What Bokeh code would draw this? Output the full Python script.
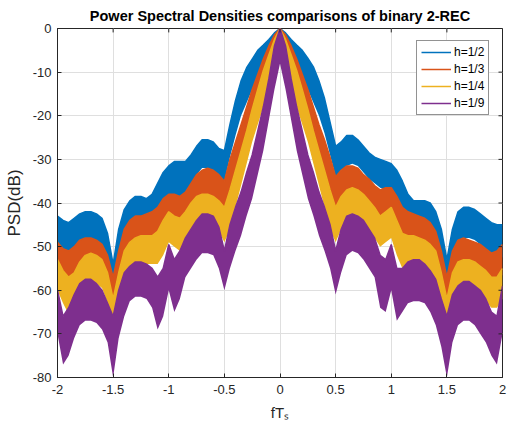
from bokeh.plotting import figure
from bokeh.models import ColumnDataSource, Range1d, FixedTicker, Legend, LegendItem
from bokeh.embed import file_html
from bokeh.resources import INLINE

# frequency grid fT_s (x axis)
FT = [round(-2 + 0.05 * i, 2) for i in range(81)]

# PSD envelopes (dB): upper / lower edge of each noisy trace
BLUE_UPPER = [-43, -44, -44.5, -43.5, -42.5, -42, -42, -42.5, -43.5, -47, -54, -46, -41.5, -39.5, -38.5,
              -38.5, -39, -38, -35.5, -33, -31.5, -30.5, -30.5, -30.5, -29, -27, -25.5, -25.5, -26, -27.5,
              -28, -22, -16.5, -12, -9, -7, -5, -3.8, -2.5, -1,
              0, -1, -2.5, -3.8, -5, -6.8, -8.8, -12, -16, -21.5, -27, -26, -24.5, -24.5, -25.5, -27,
              -28.5, -29.5, -30, -30.5, -31, -32.5, -35, -38, -39.5, -39.5, -39.5, -40, -42, -46, -53,
              -46, -42, -41, -41, -41.5, -42.5, -43.5, -44.5, -45, -45]
BLUE_LOWER = [-51, -52, -52.5, -51.5, -50, -49.5, -49.5, -50, -51, -54, -62, -53, -48, -46, -45, -45,
              -45.5, -44.5, -42, -39.5, -38.5, -38.5, -38.5, -38, -36, -33.5, -32, -32, -32.5, -34, -35,
              -29.5, -24.5, -20, -17, -14, -12, -10, -8, -6,
              -5, -6, -8, -10, -12, -14, -17, -20, -24, -29, -34, -32.5, -31.5, -31, -31.5, -33, -34.5,
              -35.5, -36.5, -37, -37.5, -39, -41.5, -44, -45, -45, -45, -46, -48, -53, -62, -53, -49,
              -48, -48, -48.5, -49.5, -50.5, -51.5, -52, -52.5]

ORANGE_UPPER = [-49, -50.5, -51, -50, -48.5, -48, -48, -48.5, -49.5, -52, -57, -51, -46, -44, -43, -43,
                -42.5, -42, -41, -39, -38, -38, -38.5, -37.5, -35.5, -33.5, -32.5, -32, -32.5, -33.5,
                -35, -30, -26, -22, -18, -14, -10.5, -7, -4, -1.5,
                0, -1.5, -4, -7, -10.5, -14, -18, -22, -25.5, -29.5, -34, -32.5, -31.5, -31.5, -32,
                -33.5, -34.5, -36, -37, -36.5, -36.5, -38.5, -41, -42, -42.5, -43, -43.5, -44.5, -46.5,
                -51, -57, -51, -48.5, -48, -48.5, -49, -49.5, -50.5, -51.5, -51, -49.5]
ORANGE_LOWER = [-56, -58, -58.5, -57, -55.5, -55, -55, -55.5, -56, -59, -70, -58, -53, -50.5, -49.5,
                -49, -48.5, -48.5, -48, -46.5, -45, -45, -45.5, -44, -42, -40, -39, -38.5, -39, -40.5,
                -43, -38, -33.5, -29.5, -25.5, -21.5, -18, -14, -11, -8,
                -6, -8, -11, -14, -18, -21.5, -25.5, -29.5, -33.5, -38, -42, -39.5, -38.5, -38, -38.5,
                -40, -41.5, -43, -44.5, -44, -43.5, -46, -48, -48.5, -48.5, -49, -49.5, -51, -53, -58,
                -70, -58, -55, -54.5, -55, -55.5, -56, -57, -58.5, -58, -56.5]

YELLOW_UPPER = [-53, -55.5, -57, -56, -53.5, -52, -51.5, -52, -53, -56, -62, -56, -51, -49, -48, -47.5,
                -47.5, -47.5, -46.5, -44, -42, -43, -43.5, -42, -40, -38.5, -38, -38, -38.5, -39.5,
                -41, -37, -32.5, -28, -23.5, -18.5, -14, -9.6, -6, -2.5,
                0, -2.5, -6, -9.6, -14, -18.5, -23.5, -28, -32.5, -37, -41, -38.5, -37, -36.5, -37,
                -38, -39.5, -41, -43, -42, -41, -44, -47, -47.5, -47.5, -48, -48.5, -49.5, -51, -56,
                -62, -56, -53.5, -53, -53, -53.5, -54.5, -55.5, -57, -57, -55]
YELLOW_LOWER = [-60, -63, -65.5, -63, -60, -58.5, -58, -58.5, -59.5, -63, -77, -63, -57.5, -55.5, -54.5,
                -54, -54, -54, -54, -52, -49, -50, -51, -49, -47, -45.5, -45, -45, -45.5, -46.5, -49,
                -46, -41, -36, -31, -26, -22, -18, -14, -10,
                -6, -10, -14, -18, -22, -26, -31, -36, -41, -46, -49, -46, -44.5, -44, -44, -45, -46.5,
                -48, -50, -49, -48, -52, -55, -54, -54, -54, -55, -56, -58, -64, -77, -64, -60, -59.5,
                -59.5, -60, -61, -62.5, -64, -64, -62]

PURPLE_UPPER = [-60, -66, -64, -61, -58.5, -57.5, -57.5, -58.5, -60, -63, -66, -60, -56, -54.5, -53.5,
                -53.5, -54, -55, -57, -55, -49.5, -53, -51, -48, -46, -44, -42.5, -42.5, -43, -45.5,
                -51, -45, -41, -37.5, -33, -29, -23.5, -18, -11.5, -4,
                0, -4, -11.5, -18, -23.5, -29, -33, -37.5, -41, -45, -51, -46, -43, -42.5, -43, -44,
                -46, -48, -52, -53, -49.5, -55, -55, -53.5, -53, -53, -54, -55.5, -57.5, -62, -66, -61,
                -59, -58, -58, -59, -60, -62, -65, -66, -59]
PURPLE_LOWER = [-70, -77, -75, -71, -68, -67, -67, -67.5, -69, -72, -80, -71, -66, -62.5, -61.5, -61.5,
                -62, -64, -69, -66, -60, -65, -62, -57, -55, -53, -51.5, -51.5, -52, -55, -60, -55,
                -51, -47.5, -43, -39, -33.5, -28, -21, -14,
                -8, -14, -21, -28, -33.5, -39, -43, -47.5, -51, -55, -61, -56, -52, -51, -51.5, -53,
                -55, -57, -64, -65, -60, -67, -65, -63, -62.5, -62.5, -63, -65, -68, -73, -80, -72,
                -68, -67, -67, -68, -70, -72, -75, -77, -70]

LABELS = ["h=1/2", "h=1/3", "h=1/4", "h=1/9"]
COLORS = ["#0072BD", "#D95319", "#EDB120", "#7E2F8E"]
X_TICKS = [-2, -1.5, -1, -0.5, 0, 0.5, 1, 1.5, 2]
X_TICK_LABELS = ["-2", "-1.5", "-1", "-0.5", "0", "0.5", "1", "1.5", "2"]
Y_TICKS = [-80, -70, -60, -50, -40, -30, -20, -10, 0]
Y_TICK_LABELS = ["-80", "-70", "-60", "-50", "-40", "-30", "-20", "-10", "0"]

FONT = "Liberation Sans"
AX = "#262626"

p = figure(width=507, height=425, x_range=Range1d(-2, 2), y_range=Range1d(-80, 0),
           output_backend="svg", toolbar_location=None,
           min_border_left=57, min_border_right=5, min_border_top=28, min_border_bottom=48)

p.title.text = "Power Spectral Densities comparisons of binary 2-REC"
p.title.align = "center"
p.title.text_font = FONT
p.title.text_font_size = "14.5px"
p.title.text_font_style = "bold"
p.title.text_color = "#000000"

series = [(BLUE_UPPER, BLUE_LOWER), (ORANGE_UPPER, ORANGE_LOWER),
          (YELLOW_UPPER, YELLOW_LOWER), (PURPLE_UPPER, PURPLE_LOWER)]
line_renderers = []
for (up, lo), col in zip(series, COLORS):
    src = ColumnDataSource(dict(x=FT, up=up, lo=lo))
    p.varea(x="x", y1="lo", y2="up", source=src, fill_color=col, fill_alpha=1.0)
    r = p.line(x="x", y="up", source=src, line_color=col, line_width=1.5)
    line_renderers.append(r)

# inward tick marks on the top and right edges of the box (at the tick positions)
p.segment(x0=X_TICKS, y0=[0] * len(X_TICKS), x1=X_TICKS, y1=[-0.9] * len(X_TICKS),
          line_color=AX, line_width=1)
p.segment(x0=[2] * len(Y_TICKS), y0=Y_TICKS, x1=[1.964] * len(Y_TICKS), y1=Y_TICKS,
          line_color=AX, line_width=1)

# axes styling
for ax in p.xaxis + p.yaxis:
    ax.axis_line_color = AX
    ax.major_tick_line_color = AX
    ax.major_tick_in = 4
    ax.major_tick_out = 0
    ax.minor_tick_line_color = None
    ax.major_label_text_font = FONT
    ax.major_label_text_font_size = "13px"
    ax.major_label_text_color = AX

p.xaxis.ticker = FixedTicker(ticks=X_TICKS)
p.xaxis.major_label_overrides = dict(zip(X_TICKS, X_TICK_LABELS))
p.xaxis.major_label_standoff = 7
p.xaxis.axis_label = "fTₛ"
p.xaxis.axis_label_text_font = FONT
p.xaxis.axis_label_text_font_size = "15px"
p.xaxis.axis_label_text_font_style = "normal"
p.xaxis.axis_label_text_color = AX
p.xaxis.axis_label_standoff = 7

p.yaxis.ticker = FixedTicker(ticks=Y_TICKS)
p.yaxis.major_label_overrides = dict(zip(Y_TICKS, Y_TICK_LABELS))
p.yaxis.major_label_standoff = 6
p.yaxis.axis_label = "PSD(dB)"
p.yaxis.axis_label_text_font = FONT
p.yaxis.axis_label_text_font_size = "17px"
p.yaxis.axis_label_text_font_style = "normal"
p.yaxis.axis_label_text_color = AX
p.yaxis.axis_label_standoff = 6

p.xgrid.ticker = FixedTicker(ticks=X_TICKS)
p.ygrid.ticker = FixedTicker(ticks=Y_TICKS)
p.grid.grid_line_color = "#dfdfdf"
p.grid.grid_line_width = 1
p.outline_line_color = AX
p.outline_line_width = 1
p.background_fill_color = "white"
p.border_fill_color = "white"

legend = Legend(items=[LegendItem(label=l, renderers=[r]) for l, r in zip(LABELS, line_renderers)],
                location=(359, 262))
legend.border_line_color = AX
legend.border_line_width = 1
legend.background_fill_color = "white"
legend.background_fill_alpha = 1.0
legend.label_text_font = FONT
legend.label_text_font_size = "12px"
legend.label_text_color = "#000000"
legend.glyph_width = 30
legend.glyph_height = 14
legend.label_height = 14
legend.spacing = 3
legend.padding = 4
legend.margin = 0
legend.label_standoff = 3
p.add_layout(legend)

open("out.html", "w").write(file_html(p, INLINE))
